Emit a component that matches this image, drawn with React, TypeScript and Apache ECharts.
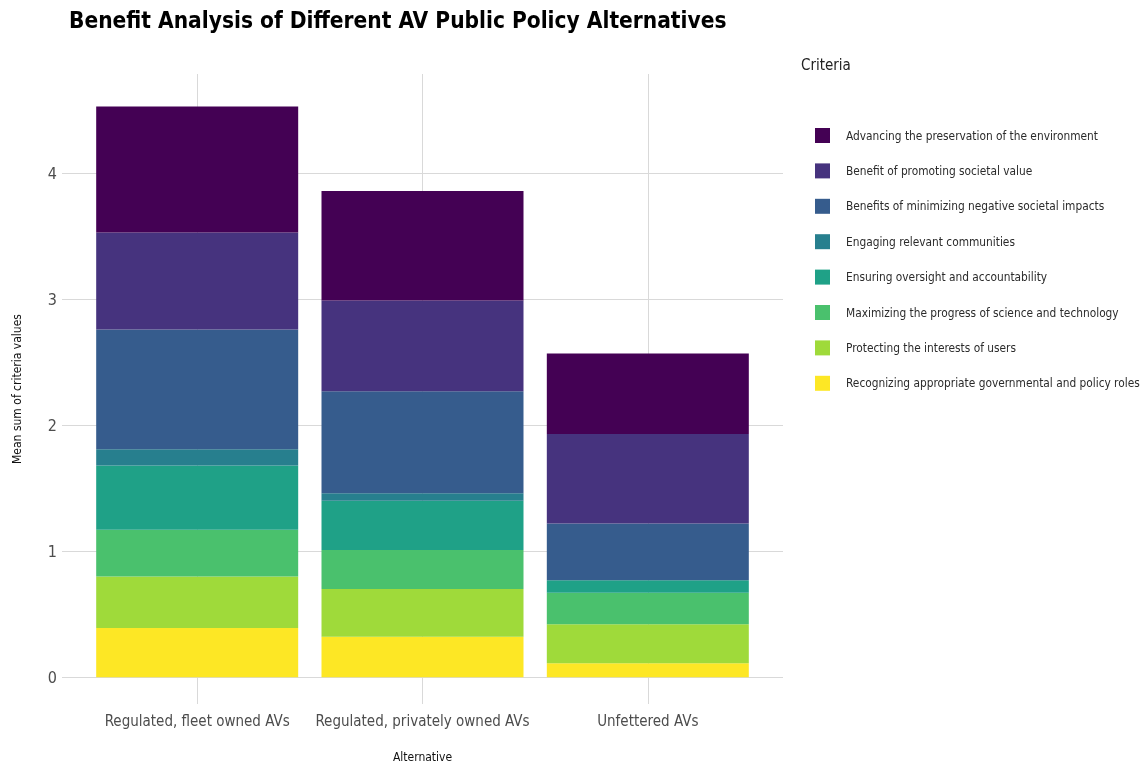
import React, { useEffect, useRef } from "react";
import * as echarts from "echarts";

const categories = ["Regulated, fleet owned AVs", "Regulated, privately owned AVs", "Unfettered AVs"];
const criteria = [
  "Recognizing appropriate governmental and policy roles",
  "Protecting the interests of users",
  "Maximizing the progress of science and technology",
  "Ensuring oversight and accountability",
  "Engaging relevant communities",
  "Benefits of minimizing negative societal impacts",
  "Benefit of promoting societal value",
  "Advancing the preservation of the environment",
];
const colors = ["#FDE725", "#9FDA3A", "#4AC16D", "#1FA187", "#277F8E", "#365C8D", "#46337E", "#440154"];
const recognizing = [0.39, 0.32, 0.11];
const protecting = [0.41, 0.38, 0.31];
const maximizing = [0.37, 0.31, 0.25];
const ensuring = [0.51, 0.39, 0.10];
const engaging = [0.13, 0.06, 0];
const minimizing = [0.95, 0.81, 0.45];
const promoting = [0.77, 0.72, 0.71];
const advancing = [1.0, 0.87, 0.64];
const seriesValues = [recognizing, protecting, maximizing, ensuring, engaging, minimizing, promoting, advancing];
const yTicks = [0, 1, 2, 3, 4];
const xTicks = [0, 1, 2];

const FONT = "'Liberation Sans Narrow', 'DejaVu Sans Condensed', 'Liberation Sans', Arial, sans-serif";

export default function App() {
  const ref = useRef<HTMLDivElement>(null);
  useEffect(() => {
    if (!ref.current) return;
    const chart = echarts.init(ref.current, undefined, { renderer: "svg" });
    const bars = criteria.map((name, k) => ({
      name,
      type: "bar",
      stack: "total",
      barWidth: 202,
      z: 2,
      itemStyle: { color: colors[k] },
      emphasis: { disabled: true },
      encode: { x: 1, y: 0 },
      data: seriesValues[k].map((v, i) => [v, i]),
    }));
    chart.setOption({
      animation: false,
      textStyle: { fontFamily: FONT },
      title: [
        {
          text: "Benefit Analysis of Different AV Public Policy Alternatives",
          left: 69,
          top: 8,
          padding: 0,
          textStyle: { fontFamily: FONT, fontSize: 22.5, fontWeight: "bold", color: "#000" },
        },
        {
          text: "Criteria",
          left: 801,
          top: 57,
          padding: 0,
          textStyle: { fontFamily: FONT, fontSize: 15, fontWeight: "normal", color: "#222" },
        },
      ],
      legend: {
        orient: "vertical",
        left: 815,
        top: 128,
        padding: 0,
        itemWidth: 15,
        itemHeight: 15,
        itemGap: 20.4,
        icon: "rect",
        data: [...criteria].reverse(),
        textStyle: { fontFamily: FONT, fontSize: 11.8, color: "#2b2b2b", padding: [0, 0, 0, 11] },
      },
      grid: { left: 62, right: 363, top: 74, bottom: 60 },
      xAxis: {
        type: "value",
        min: -0.6,
        max: 2.6,
        name: "Alternative",
        nameLocation: "middle",
        nameGap: 47,
        nameTextStyle: { fontFamily: FONT, fontSize: 12, color: "#111" },
        axisLine: { show: false },
        axisTick: { show: false },
        splitLine: { show: false },
        axisLabel: {
          customValues: xTicks,
          formatter: (v: number) => categories[Math.round(v)] ?? "",
          fontFamily: FONT,
          fontSize: 15,
          color: "#4d4d4d",
          margin: 9,
        },
      },
      yAxis: {
        type: "value",
        min: -0.213,
        max: 4.789,
        name: "Mean sum of criteria values",
        nameLocation: "middle",
        nameGap: 39,
        nameTextStyle: { fontFamily: FONT, fontSize: 12, color: "#111" },
        axisLine: { show: false },
        axisTick: { show: false },
        splitLine: { show: false },
        axisLabel: {
          customValues: yTicks,
          fontFamily: FONT,
          fontSize: 16,
          color: "#4d4d4d",
          margin: 5,
        },
      },
      series: [
        {
          name: "grid",
          type: "line",
          data: [],
          silent: true,
          z: 0,
          markLine: {
            z: 1,
            silent: true,
            symbol: ["none", "none"],
            label: { show: false },
            emphasis: { disabled: true },
            lineStyle: { color: "#d9d9d9", type: "solid", width: 1 },
            data: [...yTicks.map((v) => ({ yAxis: v })), ...xTicks.map((v) => ({ xAxis: v }))],
          },
        },
        ...bars,
      ],
    });
    return () => chart.dispose();
  }, []);
  return <div ref={ref} style={{ position: "fixed", left: 0, top: 0, width: 1146, height: 768 }} />;
}
